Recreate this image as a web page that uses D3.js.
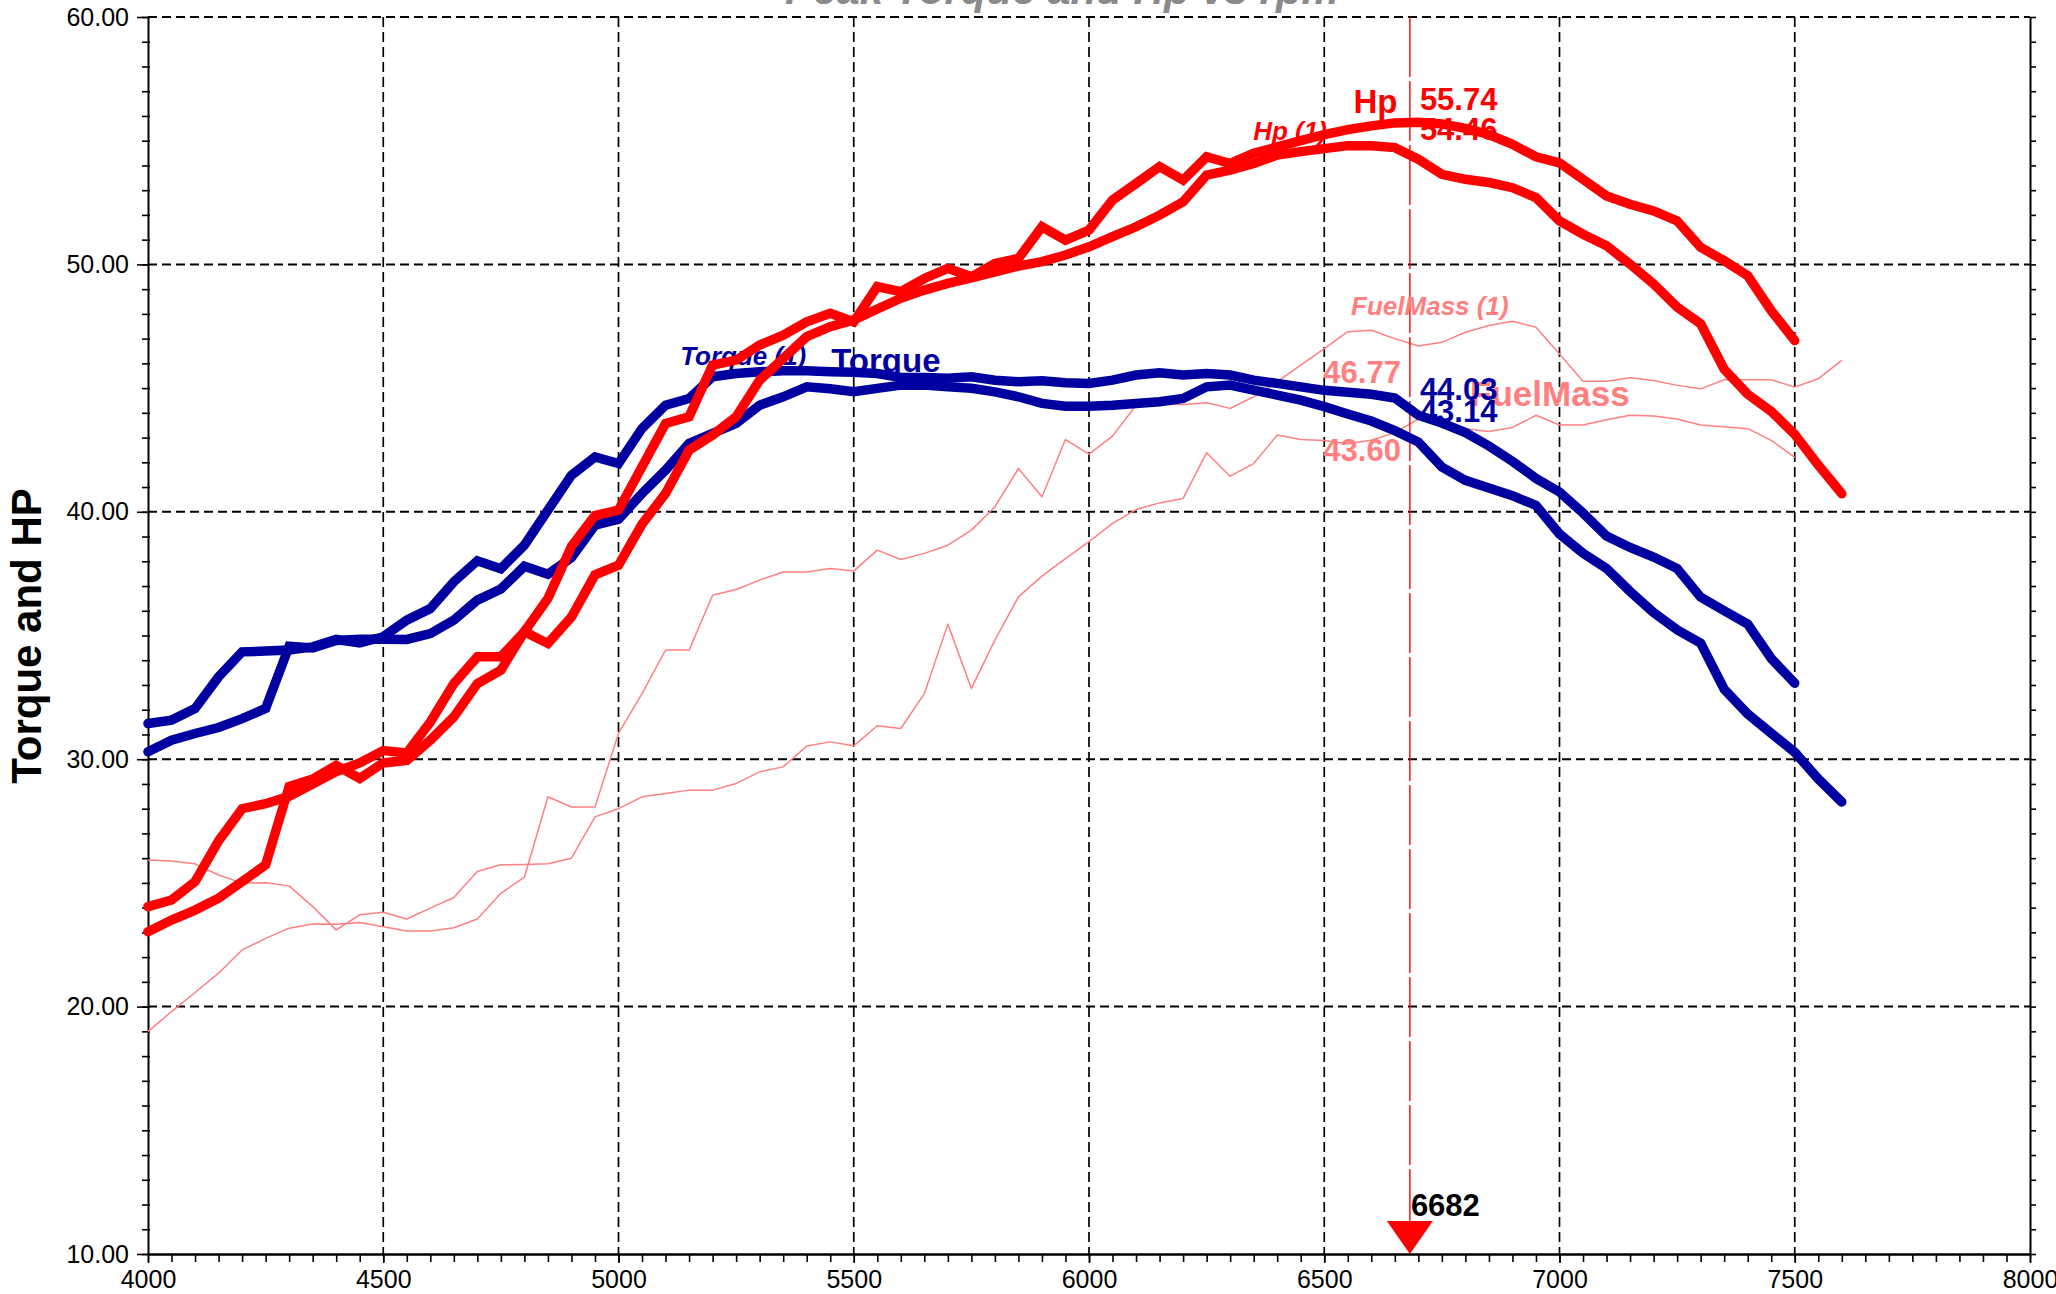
<!DOCTYPE html>
<html>
<head>
<meta charset="utf-8">
<script src="https://cdn.jsdelivr.net/npm/d3@7"></script>
<style>
	html, body { margin: 0; padding: 0; background: #fff; }
	svg { display: block; font-family: "Liberation Sans", Arial, Helvetica, sans-serif; }
</style>
</head>
<body>
<div id="box"></div>
<script>
// engine speed, one point every 50 rpm (run 0 stops at 7500, run (1) at 7600)
const rpm = [4000, 4050, 4100, 4150, 4200, 4250, 4300, 4350, 4400, 4450,
	4500, 4550, 4600, 4650, 4700, 4750, 4800, 4850, 4900, 4950,
	5000, 5050, 5100, 5150, 5200, 5250, 5300, 5350, 5400, 5450,
	5500, 5550, 5600, 5650, 5700, 5750, 5800, 5850, 5900, 5950,
	6000, 6050, 6100, 6150, 6200, 6250, 6300, 6350, 6400, 6450,
	6500, 6550, 6600, 6650, 6700, 6750, 6800, 6850, 6900, 6950,
	7000, 7050, 7100, 7150, 7200, 7250, 7300, 7350, 7400, 7450,
	7500, 7550, 7600];

const torque = [31.44, 31.58, 32.05, 33.33, 34.34, 34.37, 34.41, 34.54, 34.84, 34.7,
	34.95, 35.62, 36.09, 37.17, 38.02, 37.7, 38.65, 40.07, 41.48, 42.22,
	41.95, 43.37, 44.31, 44.58, 45.46, 45.59, 45.66, 45.7, 45.7, 45.66,
	45.64, 45.59, 45.43, 45.43, 45.4, 45.46, 45.32, 45.26, 45.3, 45.22,
	45.19, 45.32, 45.53, 45.62, 45.53, 45.59, 45.53, 45.32, 45.19, 45.05,
	44.91, 44.83, 44.75, 44.6, 43.9, 43.59, 43.2, 42.66, 42.04, 41.35,
	40.8, 39.95, 39.02, 38.56, 38.17, 37.71, 36.55, 36.0, 35.46, 34.07,
	33.07];

const hp = [24.04, 24.31, 25.05, 26.7, 28.0, 28.2, 28.5, 29.0, 29.5, 29.85,
	30.35, 30.25, 31.5, 33.06, 34.14, 34.14, 35.15, 36.5, 38.6, 39.85,
	40.07, 41.82, 43.57, 43.84, 45.93, 46.13, 46.74, 47.14, 47.68, 48.02,
	47.68, 49.1, 48.9, 49.43, 49.84, 49.5, 50.04, 50.24, 51.52, 50.98,
	51.39, 52.6, 53.27, 53.95, 53.41, 54.35, 54.08, 54.49, 54.75, 55.0,
	55.25, 55.45, 55.6, 55.72, 55.75, 55.68, 55.5, 55.25, 54.85, 54.35,
	54.1, 53.44, 52.77, 52.43, 52.16, 51.76, 50.69, 50.15, 49.54, 48.13,
	46.92];

const fuelMass = [25.93, 25.89, 25.77, 25.32, 24.99, 25.01, 24.88, 24.04, 23.1, 23.71,
	23.81, 23.54, 23.98, 24.41, 25.46, 25.73, 25.74, 25.77, 26.0, 27.67,
	28.0, 28.48, 28.61, 28.75, 28.75, 29.02, 29.49, 29.69, 30.53, 30.7,
	30.54, 31.35, 31.24, 32.65, 35.46, 32.86, 34.81, 36.56, 37.4, 38.11,
	38.79, 39.53, 40.09, 40.36, 40.54, 42.39, 41.44, 41.95, 43.1, 42.92,
	42.88, 42.75, 42.89, 43.2, 43.75, 43.51, 43.36, 43.25, 43.41, 43.9,
	43.51, 43.51, 43.72, 43.9, 43.87, 43.75, 43.51, 43.44, 43.36, 42.89,
	42.2];

const torque1 = [30.3, 30.77, 31.04, 31.28, 31.64, 32.05, 34.57, 34.5, 34.8, 34.85,
	34.85, 34.84, 35.08, 35.62, 36.43, 36.88, 37.8, 37.48, 38.15, 39.46,
	39.7, 40.74, 41.68, 42.76, 43.17, 43.57, 44.31, 44.65, 45.05, 44.97,
	44.85, 44.99, 45.12, 45.12, 45.05, 44.99, 44.85, 44.65, 44.38, 44.27,
	44.27, 44.31, 44.38, 44.45, 44.58, 45.05, 45.12, 44.92, 44.72, 44.51,
	44.25, 43.95, 43.67, 43.28, 42.82, 41.81, 41.27, 40.96, 40.65, 40.26,
	39.1, 38.33, 37.71, 36.78, 35.93, 35.23, 34.69, 32.83, 31.83, 31.05,
	30.28, 29.2, 28.27];

const hp1 = [23.03, 23.5, 23.9, 24.38, 25.05, 25.73, 28.9, 29.2, 29.75, 29.22,
	29.85, 29.95, 30.77, 31.71, 33.06, 33.6, 35.15, 34.68, 35.75, 37.45,
	37.84, 39.5, 40.74, 42.49, 43.1, 43.84, 45.32, 46.2, 47.08, 47.48,
	47.75, 48.2, 48.63, 48.96, 49.23, 49.45, 49.7, 49.93, 50.11, 50.38,
	50.71, 51.12, 51.52, 51.99, 52.53, 53.61, 53.81, 54.08, 54.42, 54.56,
	54.68, 54.8, 54.8, 54.72, 54.25, 53.64, 53.44, 53.31, 53.1, 52.7,
	51.76, 51.22, 50.75, 50.01, 49.21, 48.27, 47.6, 45.76, 44.75, 44.06,
	43.13, 41.89, 40.73];

const fuelMass1 = [18.99, 19.8, 20.57, 21.35, 22.29, 22.76, 23.17, 23.34, 23.33, 23.4,
	23.23, 23.06, 23.06, 23.19, 23.54, 24.58, 25.23, 28.48, 28.07, 28.07,
	31.04, 32.65, 34.41, 34.41, 36.63, 36.86, 37.24, 37.57, 37.57, 37.71,
	37.61, 38.45, 38.07, 38.32, 38.65, 39.26, 40.2, 41.75, 40.61, 42.92,
	42.33, 43.06, 44.31, 44.34, 44.34, 44.41, 44.18, 44.65, 45.26, 45.93,
	46.6, 47.28, 47.34, 47.0, 46.7, 46.85, 47.26, 47.53, 47.7, 47.46,
	46.38, 45.28, 45.28, 45.42, 45.31, 45.11, 44.97, 45.34, 45.34, 45.34,
	45.04, 45.38, 46.12];

const xTicks = [4000, 4500, 5000, 5500, 6000, 6500, 7000, 7500, 8000];
const yTicks = [10, 20, 30, 40, 50, 60];

const cursorRpm = 6682;
// cursor read-outs
const cursorValues = ['55.74', '54.46', '44.03', '43.14', '46.77', '43.60'];

const title = 'Peak Torque and Hp vs rpm';
const yTitle = 'Torque and HP';

const RED = '#ff0000';
const BLUE = '#0000a0';
const PINK = '#ff8080';

const width = 2056;
const height = 1294;

const x = d3.scaleLinear([4000, 8000], [148, 2030]);
const y = d3.scaleLinear([10, 60], [1254, 17]);

const svg = d3.select('#box').append('svg')
	.attr('width', width)
	.attr('height', height)
	.attr('viewBox', [0, 0, width, height]);

svg.append('rect').attr('width', width).attr('height', height).attr('fill', '#fff');

// grid
svg.append('g')
	.selectAll('line')
	.data(yTicks.filter(v => v > 10))
	.join('line')
	.attr('x1', x(4000))
	.attr('x2', x(8000))
	.attr('y1', d => y(d))
	.attr('y2', d => y(d))
	.attr('stroke', '#000')
	.attr('stroke-width', 2)
	.attr('stroke-dasharray', '9 5');

svg.append('g')
	.selectAll('line')
	.data(xTicks.filter(v => v > 4000 && v < 8000))
	.join('line')
	.attr('x1', d => x(d))
	.attr('x2', d => x(d))
	.attr('y1', y(60))
	.attr('y2', y(10))
	.attr('stroke', '#000')
	.attr('stroke-width', 1.7)
	.attr('stroke-dasharray', '10 5');

// axes
const yMinor = d3.range(10, 60.5, 1);
const xMinor = d3.range(4000, 8001, 50);

const styleAxis = g => {
	g.selectAll('.domain').attr('stroke-width', 2);
	g.selectAll('.tick line').attr('stroke-width', 1.6);
	g.selectAll('text')
		.attr('font-size', 25)
		.attr('font-family', '"Liberation Sans", Arial, sans-serif')
		.attr('fill', '#000');
};

svg.append('g')
	.attr('transform', `translate(${x(4000)},0)`)
	.call(d3.axisLeft(y).tickValues(yMinor).tickSize(6).tickFormat(''))
	.call(g => g.select('.domain').remove())
	.call(g => g.selectAll('.tick line').attr('x1', 2).attr('stroke-width', 1.6));

svg.append('g')
	.attr('transform', `translate(${x(4000)},0)`)
	.call(d3.axisLeft(y).tickValues(yTicks).tickFormat(d3.format('.2f'))
		.tickSize(11).tickPadding(8).tickSizeOuter(0))
	.call(styleAxis);

svg.append('g')
	.attr('transform', `translate(${x(8000)},0)`)
	.call(d3.axisRight(y).tickValues(yMinor).tickSize(6).tickFormat('').tickSizeOuter(0))
	.call(styleAxis);

svg.append('g')
	.attr('transform', `translate(0,${y(10)})`)
	.call(d3.axisBottom(x).tickValues(xMinor).tickSize(8).tickFormat('').tickSizeOuter(0))
	.call(styleAxis);

svg.append('g')
	.attr('transform', `translate(0,${y(10)})`)
	.call(d3.axisBottom(x).tickValues(xTicks).tickFormat(d3.format('d'))
		.tickSize(9).tickPadding(7).tickSizeOuter(0))
	.call(styleAxis);

// titles
svg.append('text')
	.attr('x', 1062)
	.attr('y', 4)
	.attr('text-anchor', 'middle')
	.attr('font-size', 42)
	.attr('font-weight', 'bold')
	.attr('font-style', 'italic')
	.attr('fill', '#8a8a8a')
	.text(title);

svg.append('text')
	.attr('transform', `translate(41,636) rotate(-90)`)
	.attr('text-anchor', 'middle')
	.attr('font-size', 42)
	.attr('font-weight', 'bold')
	.attr('fill', '#000')
	.text(yTitle);

const line = xs => d3.line()
	.curve(d3.curveLinear)
	.x((_, i) => x(xs[i]))
	.y(d => y(d));

const rpm0 = rpm.slice(0, torque.length);

// thin fuel traces
[[fuelMass, rpm0], [fuelMass1, rpm]].forEach(([v, xs]) => {
	svg.append('path')
		.attr('fill', 'none')
		.attr('stroke', PINK)
		.attr('stroke-width', 1.5)
		.attr('stroke-linejoin', 'round')
		.attr('d', line(xs)(v));
});

// cursor
const cx = x(cursorRpm);
svg.append('line')
	.attr('x1', cx).attr('x2', cx)
	.attr('y1', y(60)).attr('y2', y(10))
	.attr('stroke', RED)
	.attr('stroke-width', 1.4)
	.attr('stroke-dasharray', '60 4');

const label = (txt, rx, vy, color, size, opt = {}) => svg.append('text')
	.attr('x', x(rx) + (opt.dx || 0))
	.attr('y', y(vy))
	.attr('text-anchor', opt.anchor || 'start')
	.attr('font-size', size)
	.attr('font-weight', 'bold')
	.attr('font-style', opt.italic ? 'italic' : 'normal')
	.attr('fill', color)
	.text(txt);

// names that sit under the curves
label('Torque (1)', 5131, 45.93, BLUE, 26, { italic: true });
label('Torque', 5452, 45.65, BLUE, 33);
label('Hp (1)', 6349, 55.03, RED, 26, { italic: true });
label(cursorValues[1], cursorRpm, 55.03, RED, 31, { dx: 10 });

// thick traces: torque then hp
[[torque1, rpm, BLUE], [torque, rpm0, BLUE], [hp1, rpm, RED], [hp, rpm0, RED]].forEach(([v, xs, c]) => {
	svg.append('path')
		.attr('fill', 'none')
		.attr('stroke', c)
		.attr('stroke-width', 9.5)
		.attr('stroke-linecap', 'round')
		.attr('stroke-linejoin', 'miter')
		.attr('stroke-miterlimit', 2.5)
		.attr('d', line(xs)(v));
});

label('Hp', 6562, 56.12, RED, 33);
label(cursorValues[0], cursorRpm, 56.24, RED, 31, { dx: 10 });
label('FuelMass (1)', 6557, 47.95, PINK, 26, { italic: true });
label(cursorValues[4], cursorRpm, 45.21, PINK, 31, { dx: -9, anchor: 'end' });
label(cursorValues[5], cursorRpm, 42.05, PINK, 31, { dx: -9, anchor: 'end' });
label('FuelMass', 6810, 44.28, PINK, 35);
label(cursorValues[2], cursorRpm, 44.52, BLUE, 31, { dx: 10 });
label(cursorValues[3], cursorRpm, 43.63, BLUE, 31, { dx: 10 });

// cursor marker on the rpm axis
svg.append('path')
	.attr('d', `M${cx - 23},${y(10) - 33}L${cx + 23},${y(10) - 33}L${cx},${y(10)}Z`)
	.attr('fill', RED);

label(String(cursorRpm), cursorRpm, 11.54, '#000', 31, { dx: 1 });
</script>
</body>
</html>
